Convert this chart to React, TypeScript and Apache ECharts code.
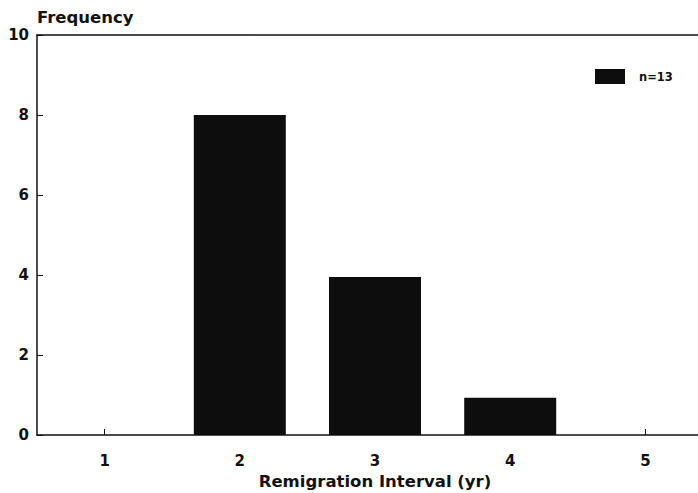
import React, { useEffect, useRef } from "react";
import * as echarts from "echarts";

const categories = ["1", "2", "3", "4", "5"];
const frequency = [0, 8, 3.95, 0.93, 0];
const yTicks = [0, 2, 4, 6, 8, 10];
const seriesName = "n=13";

export default function App() {
  const ref = useRef<HTMLDivElement>(null);
  useEffect(() => {
    if (!ref.current) return;
    const chart = echarts.init(ref.current, null, { renderer: "svg" });
    const font = "'DejaVu Sans', sans-serif";
    chart.setOption({
      animation: false,
      backgroundColor: "#ffffff",
      grid: {
        left: 37,
        top: 35,
        right: 9,
        bottom: 58,
        show: false,
        containLabel: false,
        outerBoundsMode: "none",
      },
      legend: {
        show: true,
        left: 595,
        top: 69,
        padding: 0,
        itemWidth: 30,
        itemHeight: 15,
        itemGap: 12,
        icon: "rect",
        textStyle: { fontFamily: font, fontWeight: "bold", fontSize: 11.5, color: "#111", padding: [0, 0, 0, 9] },
        data: [seriesName],
      },
      xAxis: [
        {
          type: "category",
          data: categories,
          boundaryGap: true,
          name: "Remigration Interval (yr)",
          nameLocation: "middle",
          nameGap: 36,
          nameTextStyle: { fontFamily: font, fontWeight: "bold", fontSize: 16.5, color: "#111" },
          axisLine: { show: true, lineStyle: { color: "#111", width: 1.5 } },
          axisTick: { show: true, inside: true, alignWithLabel: true, length: 6, lineStyle: { color: "#111" } },
          axisLabel: { fontFamily: font, fontWeight: "bold", fontSize: 15, color: "#111", margin: 18 },
          splitLine: { show: false },
        },
        {
          type: "category",
          data: categories,
          position: "top",
          axisLine: { show: true, lineStyle: { color: "#111", width: 1.5 } },
          axisTick: { show: false },
          axisLabel: { show: false },
          splitLine: { show: false },
        },
      ],
      yAxis: {
        type: "value",
        min: yTicks[0],
        max: yTicks[yTicks.length - 1],
        interval: 2,
        name: "Frequency",
        nameLocation: "end",
        nameGap: 9,
        nameTextStyle: { fontFamily: font, fontWeight: "bold", fontSize: 16.5, color: "#111", align: "left" },
        axisLine: { show: true, lineStyle: { color: "#111", width: 1.5 } },
        axisTick: { show: true, inside: true, length: 6, lineStyle: { color: "#111" } },
        axisLabel: { fontFamily: font, fontWeight: "bold", fontSize: 15, color: "#111", margin: 8 },
        splitLine: { show: false },
      },
      series: [
        {
          name: seriesName,
          type: "bar",
          xAxisIndex: 0,
          data: frequency,
          barWidth: 92,
          itemStyle: { color: "#0d0d0d" },
        },
      ],
    });
    return () => chart.dispose();
  }, []);
  return (
    <div style={{ position: "fixed", left: 0, top: 0, width: 698, height: 493, overflow: "hidden", background: "#fff" }}>
      <div ref={ref} style={{ width: 722, height: 493 }} />
    </div>
  );
}
